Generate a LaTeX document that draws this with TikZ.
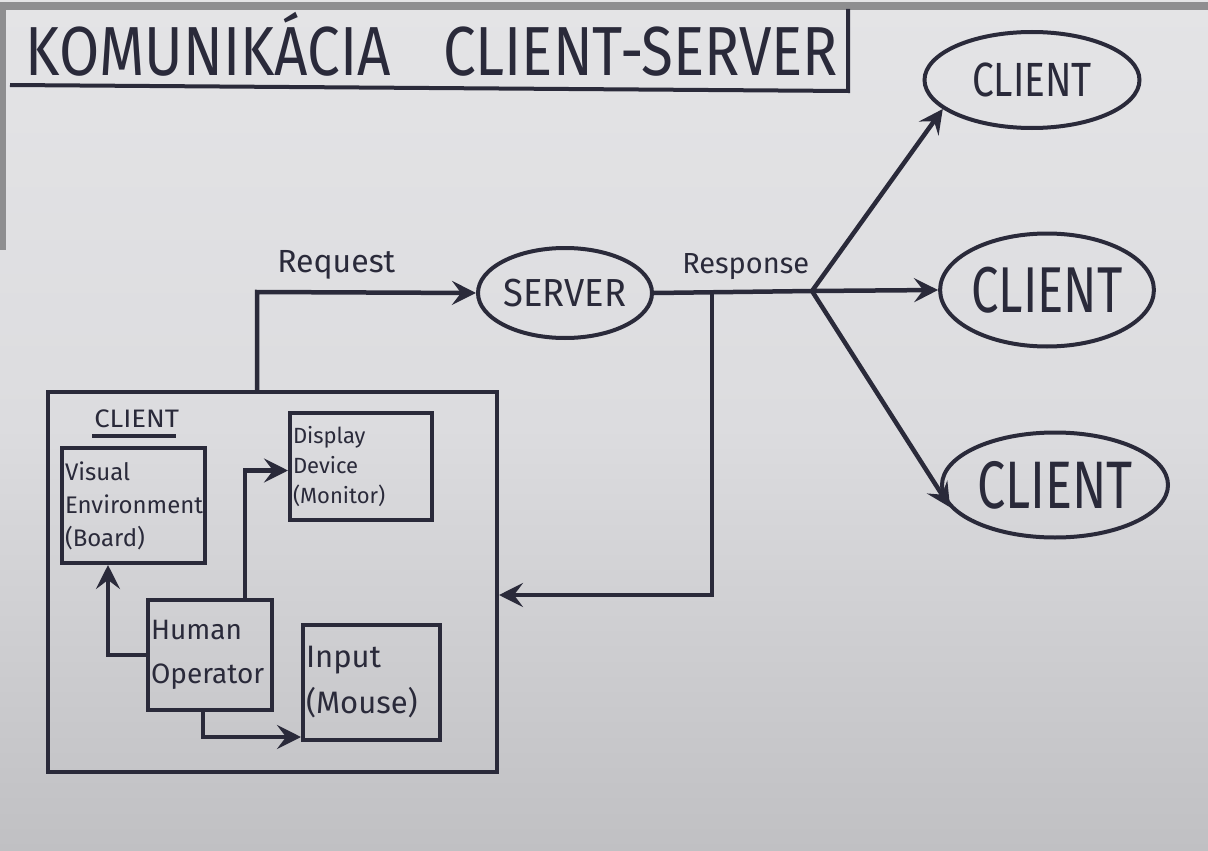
\documentclass[tikz,border=0pt]{standalone}
\usepackage{fontspec}
\setmainfont{Fira Sans}
\usetikzlibrary{arrows.meta,shapes.geometric}
\definecolor{papertop}{HTML}{E4E4E6}
\definecolor{papermid}{HTML}{DCDCDF}
\definecolor{paperbot}{HTML}{C0C0C3}
\definecolor{ink}{HTML}{2A2A3A}
\definecolor{edgegray}{HTML}{8E8E90}
\begin{document}
\begin{tikzpicture}[x=1pt,y=-1pt,line width=4.5pt,color=ink,
  arr/.style={-{Stealth[length=24pt,width=24pt,inset=9pt]}},
  box/.style={draw,rectangle,line width=4pt,inner sep=3pt,align=left,text=ink},
  oval/.style={draw,ellipse,line width=4pt,inner sep=0pt,text=ink},
  lbl/.style={text=ink,inner sep=0pt}]
\useasboundingbox (0,0) rectangle (1208,851);
\shade[top color=papertop,bottom color=paperbot,middle color=papermid] (0,0) rectangle (1208,851);
\fill[edgegray] (0,2) rectangle (1208,10);
\fill[edgegray] (0,2) rectangle (6,250);
% title
\draw[line width=4pt] (10,85) -- (848,91) -- (848,9);
\node[lbl] (title) at (432,44) {\fontsize{62}{62}\selectfont\scalebox{0.94}[1.12]{KOMUNIKÁCIA\hspace{0.9em}CLIENT-SERVER}};
% server and clients
\node[oval,minimum width=174pt,minimum height=90pt] (server) at (565,293) {\fontsize{34}{34}\selectfont\scalebox{1.07}[1.15]{SERVER}};
\node[oval,minimum width=215pt,minimum height=96pt] (c1) at (1032,80) {\fontsize{40}{40}\selectfont\scalebox{0.97}[1.2]{CLIENT}};
\node[oval,minimum width=203pt,minimum height=113pt] (c2) at (1047,290) {\fontsize{48}{48}\selectfont\scalebox{1.02}[1.35]{CLIENT}};
\node[oval,minimum width=226pt,minimum height=105pt] (c3) at (1055,485) {\fontsize{48}{48}\selectfont\scalebox{1.05}[1.4]{CLIENT}};
% client box
\node[draw,rectangle,line width=4pt,minimum width=449pt,minimum height=380pt,inner sep=0pt] (cbox) at (272.5,582) {};
\node[lbl,anchor=south west] (clbl) at (92,430) {\fontsize{22}{22}\selectfont\scalebox{1.25}[1.15]{CLIENT}};
\draw[line width=3.5pt] (92,436) -- (176,436);
\node[box,minimum width=143pt,minimum height=115pt,text width=137pt,font=\fontsize{24}{33}\selectfont] (vis) at (133.5,505.5)
  {Visual\\Environment\\(Board)};
\node[box,minimum width=142pt,minimum height=107pt,text width=136pt,font=\fontsize{22}{30}\selectfont] (disp) at (361,466.5)
  {Display\\Device\\(Monitor)};
\node[box,minimum width=124pt,minimum height=110pt,text width=118pt,font=\fontsize{28}{44}\selectfont] (hum) at (210,655)
  {Human\\Operator};
\node[box,minimum width=137pt,minimum height=115pt,text width=131pt,font=\fontsize{31}{46}\selectfont] (inp) at (371.5,682.5)
  {Input\\(Mouse)};
% internal arrows
\draw[arr] (hum.west) -| ([xshift=48pt]vis.south west);
\draw[arr] ([xshift=99pt]hum.north west) |- ([yshift=-4pt]disp.west);
\draw[arr] ([xshift=57pt]hum.south west) |- ([yshift=5pt]inp.south west);
% request
\coordinate (req) at (257,292);
\draw[arr] (cbox.north -| req) -- (req) -- (server.west);
\node[lbl,anchor=south west] (reqlbl) at (275,282) {\fontsize{32}{32}\selectfont Request};
% response
\coordinate (br) at (812,291);
\coordinate (drop) at (712,291);
\coordinate (ret) at (712,595);
\draw (server.east) -- (br);
\node[lbl,anchor=south west] (resplbl) at (680,282) {\fontsize{29}{29}\selectfont Response};
\draw[arr] (drop) -- (ret) -- (cbox.east |- ret);
\draw[arr] (br) -- (c1.198);
\draw[arr] (br) -- (c2.west);
\draw[arr] (br) -- (c3.192);
\end{tikzpicture}
\end{document}
